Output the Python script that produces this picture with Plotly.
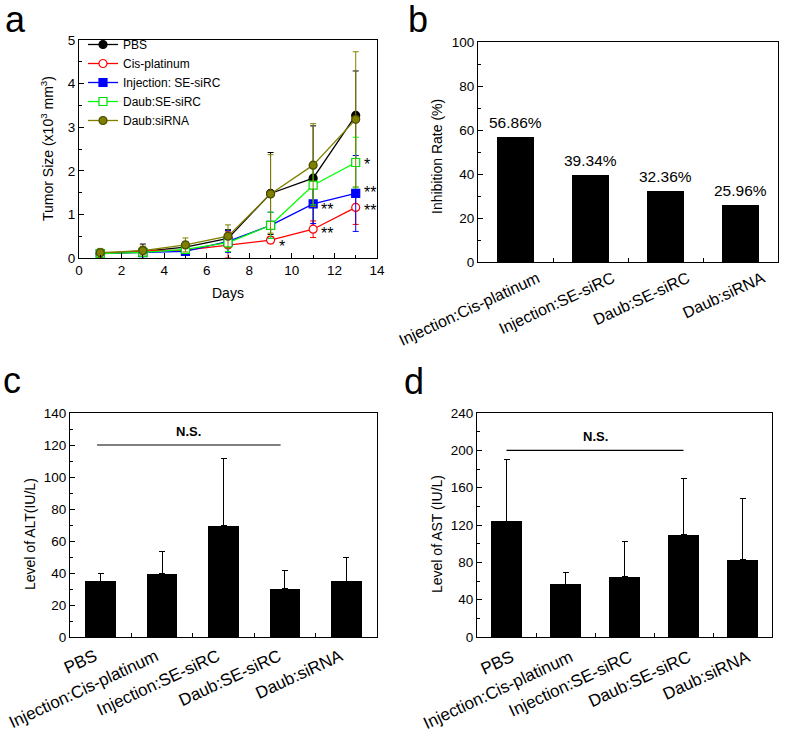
import plotly.graph_objects as go

FONT = "Arial, 'Liberation Sans', sans-serif"
W, H = 787, 736

# ---------------- data: panel a ----------------
days = [1, 3, 5, 7, 9, 11, 13]
pbs = [0.10, 0.15, 0.25, 0.45, 1.48, 1.83, 3.27]
pbs_err = [0.10, 0.17, 0.12, 0.20, 0.94, 1.20, 1.02]
cis = [0.10, 0.17, 0.18, 0.30, 0.41, 0.66, 1.16]
cis_err = [0.06, 0.08, 0.08, 0.30, 0.08, 0.19, 0.39]
inj = [0.10, 0.12, 0.15, 0.38, 0.75, 1.24, 1.48]
inj_err = [0.05, 0.07, 0.07, 0.25, 0.30, 0.45, 0.87]
daub_se = [0.10, 0.13, 0.20, 0.35, 0.75, 1.67, 2.19]
daub_se_err = [0.05, 0.06, 0.08, 0.20, 0.30, 0.45, 0.58]
daub_si = [0.12, 0.17, 0.30, 0.50, 1.47, 2.13, 3.18]
daub_si_err = [0.10, 0.10, 0.16, 0.26, 0.90, 0.95, 1.55]
series_names = ["PBS", "Cis-platinum", "Injection: SE-siRC", "Daub:SE-siRC", "Daub:siRNA"]

# significance marks: (series index, day index, text)
sig_marks = [(1, 4, "*"), (1, 5, "**"), (2, 5, "**"), (3, 6, "*"), (2, 6, "**"), (1, 6, "**")]

# ---------------- data: panel b ----------------
inh_cats = ["Injection:Cis-platinum", "Injection:SE-siRC", "Daub:SE-siRC", "Daub:siRNA"]
inh_vals = [56.86, 39.34, 32.36, 25.96]

# ---------------- data: panels c, d ----------------
liver_cats = ["PBS", "Injection:Cis-platinum", "Injection:SE-siRC", "Daub:SE-siRC", "Daub:siRNA"]
alt_vals = [35.0, 39.5, 69.5, 30.2, 34.8]
alt_err = [4.6, 14.2, 41.8, 11.4, 14.6]
ast_vals = [124.0, 56.3, 64.5, 109.3, 83.0]
ast_err = [66.0, 13.2, 38.2, 60.4, 64.9]

# ---------------- layout helpers ----------------
def px_x(a, b):
    return [a / W, b / W]

def px_y(top, bottom):
    return [1 - bottom / H, 1 - top / H]

def lin_axis(domain, rng, dtick, mdtick, anchor):
    return dict(domain=domain, range=rng, dtick=dtick, tick0=0, anchor=anchor,
                automargin=False,
                ticks="inside", ticklen=5, tickwidth=1, tickcolor="black",
                showline=True, linecolor="black", linewidth=1.2, mirror=True,
                showgrid=False, zeroline=False, fixedrange=True,
                minor=dict(ticks="inside", dtick=mdtick, tick0=0, ticklen=3,
                           tickwidth=1, tickcolor="black", showgrid=False),
                tickfont=dict(size=13.5, color="black", family=FONT))

def cat_axis(domain, n, anchor, angle, shift, size, standoff):
    return dict(domain=domain, range=[-0.5, n - 0.5], type="category", anchor=anchor,
                automargin=False, ticklabelshift=shift, ticklabelstandoff=standoff,
                tickson="boundaries", ticks="inside", ticklen=4, tickwidth=1,
                tickcolor="black", showline=True, linecolor="black", linewidth=1.2,
                mirror=True, showgrid=False, zeroline=False, fixedrange=True,
                tickangle=angle, tickfont=dict(size=size, color="black", family=FONT))

fig = go.Figure()

# ---------------- panel a ----------------
styles = [
    dict(color="#000000", symbol="circle", fill="#000000", edge="#000000"),
    dict(color="#FF0000", symbol="circle", fill="#FFFFFF", edge="#FF0000"),
    dict(color="#0000FF", symbol="square", fill="#0000FF", edge="#0000FF"),
    dict(color="#00FF00", symbol="square", fill="#FFFFFF", edge="#00E000"),
    dict(color="#808000", symbol="circle", fill="#808000", edge="#4a4a00"),
]
vals_a = [pbs, cis, inj, daub_se, daub_si]
errs_a = [pbs_err, cis_err, inj_err, daub_se_err, daub_si_err]
for name, v, e, st in zip(series_names, vals_a, errs_a, styles):
    fig.add_trace(go.Scatter(
        x=days, y=v, name=name, mode="lines+markers", xaxis="x", yaxis="y",
        line=dict(color=st["color"], width=1.3),
        marker=dict(symbol=st["symbol"], size=8, color=st["fill"],
                    line=dict(color=st["edge"], width=1.2)),
        error_y=dict(type="data", array=e, color=st["color"], thickness=1, width=3),
        cliponaxis=False,
    ))

# ---------------- panel b ----------------
fig.add_trace(go.Bar(x=inh_cats, y=inh_vals, xaxis="x2", yaxis="y2", width=0.5,
                     marker=dict(color="black", line=dict(width=0)), showlegend=False))

# ---------------- panel c ----------------
fig.add_trace(go.Bar(x=liver_cats, y=alt_vals, xaxis="x3", yaxis="y3", width=0.5,
                     marker=dict(color="black", line=dict(width=0)), showlegend=False,
                     error_y=dict(type="data", symmetric=False, array=alt_err,
                                  arrayminus=[0] * len(alt_err), color="black",
                                  thickness=1, width=3)))

# ---------------- panel d ----------------
fig.add_trace(go.Bar(x=liver_cats, y=ast_vals, xaxis="x4", yaxis="y4", width=0.52,
                     marker=dict(color="black", line=dict(width=0)), showlegend=False,
                     error_y=dict(type="data", symmetric=False, array=ast_err,
                                  arrayminus=[0] * len(ast_err), color="black",
                                  thickness=1, width=3)))

annotations = []
# panel letters
for txt, x, y in [("a", 3, -3), ("b", 406, -3), ("c", 1, 358), ("d", 402, 359)]:
    annotations.append(dict(text=txt, xref="paper", yref="paper", x=x / W, y=1 - y / H,
                            xanchor="left", yanchor="top", showarrow=False,
                            font=dict(size=36, color="black", family=FONT)))

# axis titles
title_font = dict(size=14, color="black", family=FONT)
annotations += [
    dict(text="Tumor Size (x10<sup>3</sup> mm<sup>3</sup>)", x=47 / W, y=1 - 149 / H, textangle=-90),
    dict(text="Days", x=228 / W, y=1 - 293 / H, textangle=0),
    dict(text="Inhibition Rate (%)", x=437 / W, y=1 - 157 / H, textangle=-90),
    dict(text="Level of ALT(IU/L)", x=30 / W, y=1 - 534 / H, textangle=-90),
    dict(text="Level of AST (IU/L)", x=437 / W, y=1 - 534 / H, textangle=-90),
]
for a in annotations[-5:]:
    a.update(xref="paper", yref="paper", xanchor="center", yanchor="middle",
             showarrow=False, font=title_font)

# significance asterisks (panel a)
sig_shift = [-6, -4, -6, -2, 1, -3]
for (si, di, txt), ys in zip(sig_marks, sig_shift):
    annotations.append(dict(text=txt, xref="x", yref="y", x=days[di], y=vals_a[si][di],
                            xanchor="left", yanchor="middle", xshift=6, yshift=ys,
                            showarrow=False, font=dict(size=16, color="black", family=FONT)))

# inhibition value labels (panel b)
for c, v in zip(inh_cats, inh_vals):
    annotations.append(dict(text=f"{v:.2f}%", xref="x2", yref="y2", x=c, y=v,
                            xanchor="center", yanchor="bottom", yshift=4,
                            showarrow=False, font=dict(size=15.5, color="black", family=FONT)))

# N.S. brackets
ns_c = dict(y=120, x0=-0.06, x1=2.93)
ns_d = dict(y=200, x0=0.0, x1=3.0)
shapes = []
for ns, xr, yr in [(ns_c, "x3", "y3"), (ns_d, "x4", "y4")]:
    shapes.append(dict(type="line", xref=xr, yref=yr, x0=ns["x0"], x1=ns["x1"],
                       y0=ns["y"], y1=ns["y"], line=dict(color="black", width=1.2)))
    annotations.append(dict(text="<b>N.S.</b>", xref=xr, yref=yr,
                            x=(ns["x0"] + ns["x1"]) / 2, y=ns["y"], yanchor="bottom",
                            yshift=4, showarrow=False,
                            font=dict(size=13, color="black", family=FONT)))

fig.update_layout(
    width=W, height=H, margin=dict(l=0, r=0, t=0, b=0, autoexpand=False),
    paper_bgcolor="white", plot_bgcolor="white",
    font=dict(family=FONT, color="black"),
    xaxis=lin_axis(px_x(79, 377), [0, 14], 2, 1, "y"),
    yaxis=lin_axis(px_y(40, 258), [0, 5], 1, 0.5, "x"),
    xaxis2=cat_axis(px_x(478, 778), len(inh_cats), "y2", -25, 22, 16, 0),
    yaxis2=lin_axis(px_y(42, 262), [0, 100], 20, 10, "x2"),
    xaxis3=cat_axis(px_x(70, 377), len(liver_cats), "y3", -25, -6, 17, 2),
    yaxis3=lin_axis(px_y(413, 637), [0, 140], 20, 10, "x3"),
    xaxis4=cat_axis(px_x(477, 772), len(liver_cats), "y4", -25, 5, 17, 3),
    yaxis4=lin_axis(px_y(413, 637), [0, 240], 40, 20, "x4"),
    showlegend=True,
    legend=dict(x=83 / W, y=1 - 30 / H, xanchor="left", yanchor="top",
                bgcolor="rgba(0,0,0,0)", borderwidth=0, itemwidth=30,
                font=dict(size=12, color="black", family=FONT), tracegroupgap=0),
    annotations=annotations, shapes=shapes, bargap=0,
)

fig.write_html("out.html", config={"displayModeBar": False},
               post_script="document.body.style.margin='0px';document.body.style.padding='0px';")
